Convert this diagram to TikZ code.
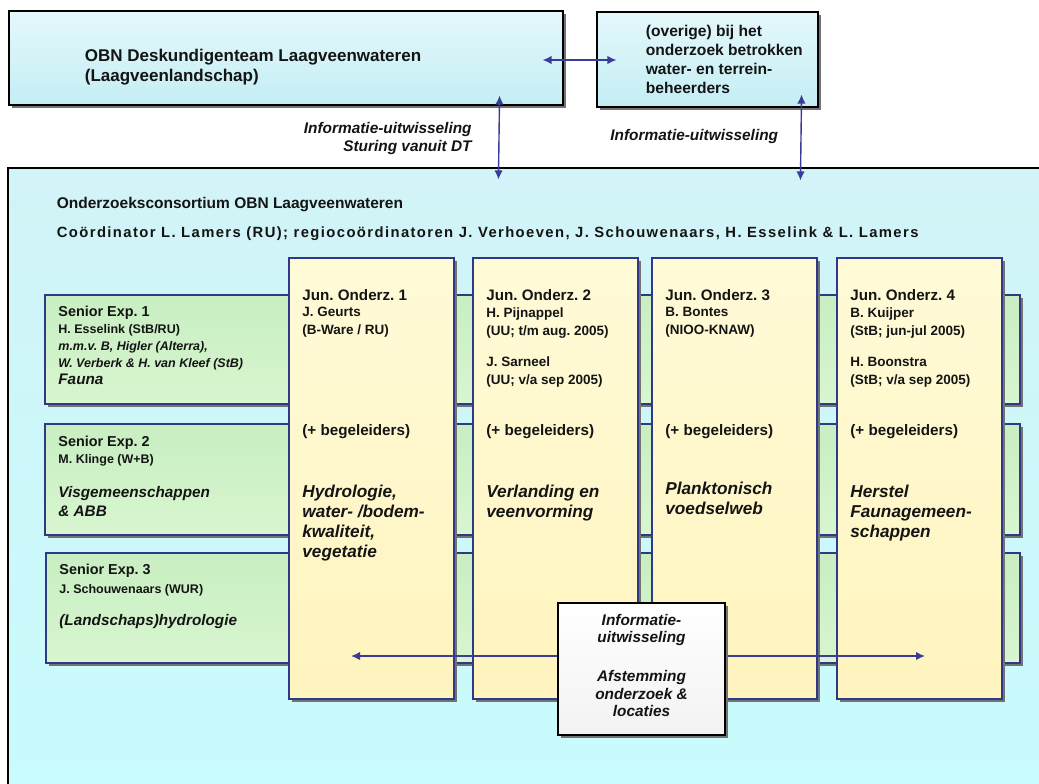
\documentclass[tikz,border=0pt]{standalone}
\usepackage{fontspec}
\setmainfont{Liberation Sans}
\usetikzlibrary{arrows.meta,positioning,calc,fit,shadows}
\frenchspacing
\definecolor{Ink}{HTML}{141414}
\definecolor{Frame}{HTML}{2E3A87}
\definecolor{ArrowBlue}{HTML}{3B3B98}
\definecolor{SkyTop}{HTML}{E4F8FB}
\definecolor{SkyBot}{HTML}{C4EEF4}
\definecolor{PoolTop}{HTML}{D2F3F7}
\definecolor{PoolBot}{HTML}{C8FCFD}
\definecolor{MintTop}{HTML}{C8EEC1}
\definecolor{MintBot}{HTML}{D8F6D0}
\definecolor{CreamTop}{HTML}{FFFBD8}
\definecolor{CreamBot}{HTML}{FFF4BE}

\begin{document}
\begin{tikzpicture}[x=0.5pt, y=-0.5pt,
  shd/.style={drop shadow={shadow xshift=1.6pt, shadow yshift=-1.6pt, fill=black!55, opacity=1}},
  topbox/.style={shd, draw=black, line width=0.55pt, top color=SkyTop, bottom color=SkyBot, inner sep=0pt},
  poolbox/.style={draw=black, line width=0.55pt, top color=PoolTop, bottom color=PoolBot, inner sep=0pt},
  senbox/.style={shd, draw=Frame, line width=0.65pt, top color=MintTop, bottom color=MintBot, inner sep=0pt, outer sep=0pt},
  junbox/.style={shd, draw=Frame, line width=0.65pt, top color=CreamTop, bottom color=CreamBot, inner sep=0pt, outer sep=0pt,
                 minimum width=82.5pt, minimum height=220.5pt},
  midbox/.style={shd, draw=black, line width=0.55pt, top color=white, bottom color=black!5, inner sep=0pt},
  dbl/.style={{Latex[length=4.5pt,width=4.2pt]}-{Latex[length=4.5pt,width=4.2pt]}, draw=ArrowBlue, line width=0.7pt},
  txt/.style={inner sep=0pt, anchor=north west, align=left, text=Ink},
  big/.style={font=\fontsize{8.5}{10}\selectfont\bfseries},
  mid/.style={font=\fontsize{7.8}{9.5}\selectfont\bfseries},
  crd/.style={font=\fontsize{7.4}{8.5}\selectfont\bfseries\addfontfeature{LetterSpace=9.5}},
  sttl/.style={font=\fontsize{7.2}{9}\selectfont\bfseries},
  jttl/.style={font=\fontsize{7.6}{9}\selectfont\bfseries},
  snm/.style={font=\fontsize{6.25}{8.5}\selectfont\bfseries},
  jnm/.style={font=\fontsize{6.75}{9}\selectfont\bfseries},
  stp/.style={font=\fontsize{7.65}{9.5}\selectfont\bfseries\itshape},
  jtp/.style={font=\fontsize{8.6}{10}\selectfont\bfseries\itshape},
  lbl/.style={font=\fontsize{7.7}{8.75}\selectfont\bfseries\itshape}]
  \useasboundingbox[fill=white] (0,0) rectangle (1039,783);
  \clip (0,0) rectangle (1039,783);

  % deskundigenteam en beheerders
  \node[topbox, fit={(9,11) (563,105)}] (deskteam) {};
  \node[txt, big] (desktxt) at ($(deskteam.north west)+(76,38)$) {OBN Deskundigenteam Laagveenwateren\\(Laagveenlandschap)};
  \node[topbox, fit={(597,12) (818,107)}] (beheer) {};
  \node[txt, mid] (beheertxt) at ($(beheer.north west)+(49,13)$) {(overige) bij het\\onderzoek betrokken\\water- en terrein-\\beheerders};
  \draw[dbl] ($(deskteam.east)+(-21,2)$) -- ($(beheer.west)+(20,0.5)$);

  \node[txt, lbl, anchor=north east, align=right] (lbldt) at (472,122) {Informatie-uitwisseling\\Sturing vanuit DT};
  \node[txt, lbl] (lblbh) at (610,129) {Informatie-uitwisseling};

  % consortium
  \node[poolbox, fit={(8,168) (1060,800)}] (consort) {};
  \draw[dbl] ($(deskteam.south east)+(-64,-10)$) -- ($(consort.north west)+(491,12)$);
  \draw[dbl] ($(beheer.south east)+(-17,-13)$) -- ($(consort.north west)+(793,13)$);
  \node[txt, mid, font=\fontsize{7.75}{9.5}\selectfont\bfseries] (constxt) at ($(consort.north west)+(49,29)$) {Onderzoeksconsortium OBN Laagveenwateren};
  \node[txt, crd] (coord) at ($(consort.north west)+(49,59)$) {Coördinator L. Lamers (RU); regiocoördinatoren J. Verhoeven, J. Schouwenaars, H. Esselink \& L. Lamers};

  % senior experts
  \node[senbox, fit={(45,295) (1020,404)}] (sen1) {};
  \node[txt, sttl] at ($(sen1.north west)+(13,11)$) {Senior Exp. 1};
  \node[txt, snm] at ($(sen1.north west)+(13,29)$) {H. Esselink (StB/RU)\\\itshape m.m.v. B, Higler (Alterra),\\\itshape W. Verberk \& H. van Kleef (StB)};
  \node[txt, stp] at ($(sen1.north west)+(13,79)$) {Fauna};

  \node[senbox, fit={(45,424) (1020,535)}] (sen2) {};
  \node[txt, sttl] at ($(sen2.north west)+(13,12)$) {Senior Exp. 2};
  \node[txt, snm] at ($(sen2.north west)+(13,30)$) {M. Klinge (W+B)};
  \node[txt, stp] at ($(sen2.north west)+(13,62)$) {Visgemeenschappen\\\& ABB};

  \node[senbox, fit={(46,553) (1020,663)}] (sen3) {};
  \node[txt, sttl] at ($(sen3.north west)+(13,11)$) {Senior Exp. 3};
  \node[txt, snm] at ($(sen3.north west)+(13,31)$) {J. Schouwenaars (WUR)};
  \node[txt, stp] at ($(sen3.north west)+(13,61)$) {(Landschaps)hydrologie};

  % junior onderzoekers
  \node[junbox, anchor=north west] (jun1) at (289,258) {};
  \node[junbox, right=9.5pt of jun1] (jun2) {};
  \node[junbox, right=7pt of jun2] (jun3) {};
  \node[junbox, right=10pt of jun3] (jun4) {};

  \node[txt, jttl] at ($(jun1.north west)+(13,31)$) {Jun. Onderz. 1};
  \node[txt, jnm] at ($(jun1.north west)+(13,49)$) {J. Geurts\\(B-Ware / RU)};
  \node[txt, jttl] at ($(jun1.north west)+(13,166)$) {(+ begeleiders)};
  \node[txt, jtp] at ($(jun1.north west)+(13,227)$) {Hydrologie,\\water- /bodem-\\kwaliteit,\\vegetatie};

  \node[txt, jttl] at ($(jun2.north west)+(13,31)$) {Jun. Onderz. 2};
  \node[txt, jnm] at ($(jun2.north west)+(13,49)$) {H. Pijnappel\\(UU; t/m aug. 2005)\\[6.5pt]J. Sarneel\\(UU; v/a sep 2005)};
  \node[txt, jttl] at ($(jun2.north west)+(13,166)$) {(+ begeleiders)};
  \node[txt, jtp] at ($(jun2.north west)+(13,227)$) {Verlanding en\\veenvorming};

  \node[txt, jttl] at ($(jun3.north west)+(13,31)$) {Jun. Onderz. 3};
  \node[txt, jnm] at ($(jun3.north west)+(13,49)$) {B. Bontes\\(NIOO-KNAW)};
  \node[txt, jttl] at ($(jun3.north west)+(13,166)$) {(+ begeleiders)};
  \node[txt, jtp] at ($(jun3.north west)+(13,224)$) {Planktonisch\\voedselweb};

  \node[txt, jttl] at ($(jun4.north west)+(13,31)$) {Jun. Onderz. 4};
  \node[txt, jnm] at ($(jun4.north west)+(13,49)$) {B. Kuijper\\(StB; jun-jul 2005)\\[6.5pt]H. Boonstra\\(StB; v/a sep 2005)};
  \node[txt, jttl] at ($(jun4.north west)+(13,166)$) {(+ begeleiders)};
  \node[txt, jtp] at ($(jun4.north west)+(13,227)$) {Herstel\\Faunagemeen-\\schappen};

  % afstemming
  \draw[dbl] ($(jun1.south west)+(62,-43)$) -- ($(jun4.south west)+(88,-43)$);
  \node[midbox, fit={(558,603) (725,735)}] (overleg) {};
  \node[txt, lbl, anchor=north, align=center] (overlegtxt) at ($(overleg.north)+(0,11)$) {Informatie-\\uitwisseling\\[10.75pt]Afstemming\\onderzoek \&\\locaties};
\end{tikzpicture}
\end{document}
